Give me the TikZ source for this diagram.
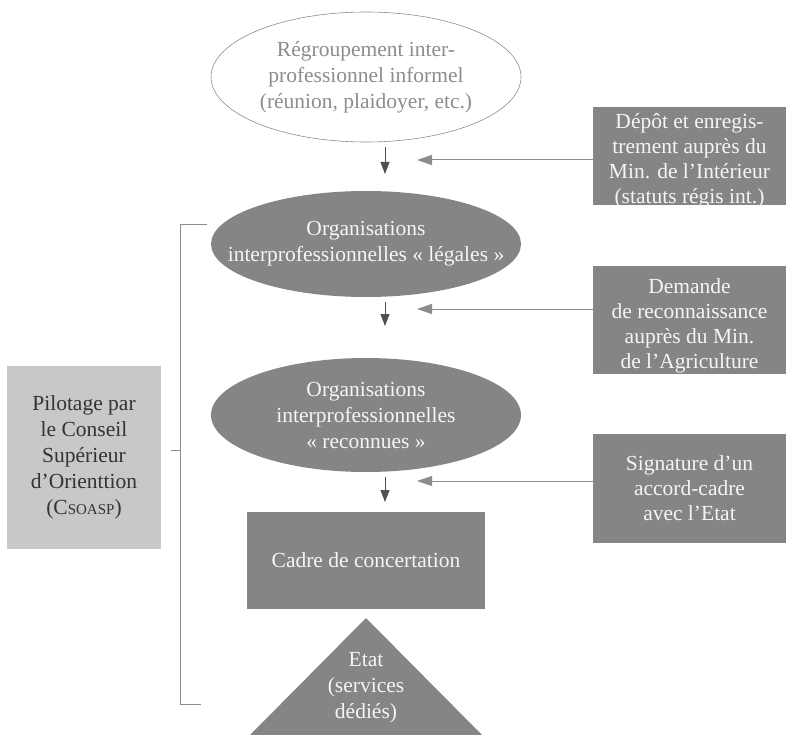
\documentclass[tikz,border=0pt]{standalone}
\usepackage{fontspec}
\setmainfont{Liberation Serif}
\usetikzlibrary{shapes.geometric,arrows.meta}
\definecolor{boxgray}{RGB}{133,133,133}
\definecolor{lightgray}{RGB}{200,200,200}
\definecolor{arrowgray}{RGB}{140,140,140}
\definecolor{darkarrow}{RGB}{80,80,80}
\definecolor{paletext}{RGB}{245,245,245}
\newcommand{\montee}[1]{\rule{0pt}{#1}}

\begin{document}
\begin{tikzpicture}[x=1pt,y=-1pt,
    txt/.style={font=\fontsize{21.5}{26}\selectfont, align=center},
    orga/.style={ellipse, txt, fill=boxgray, text=paletext, minimum width=310pt, minimum height=106pt, inner xsep=-50pt, inner ysep=0pt},
    demarche/.style={rectangle, txt, font=\fontsize{21.5}{25}\selectfont, fill=boxgray, text=paletext, minimum width=193pt, inner xsep=0pt, inner ysep=-8pt},
    etape/.style={-{Triangle[length=12pt,width=9pt]}, darkarrow, line width=0.8pt},
    apport/.style={-{Triangle[length=15pt,width=10pt]}, arrowgray, line width=1pt}]

\useasboundingbox (0,0) rectangle (786,735);

\node[ellipse, txt, draw=arrowgray, text=arrowgray, line width=0.6pt, minimum width=310pt, minimum height=130pt, inner xsep=-50pt, inner ysep=0pt] (informel) at (366,77)
    {R\'egroupement inter-\\professionnel informel\\(r\'eunion, plaidoyer, etc.)};
\node[orga] (legales) at (366,244) {Organisations\\interprofessionnelles \guillemotleft\ l\'egales \guillemotright};
\node[orga, minimum height=114pt] (reconnues) at (366,415) {Organisations\\interprofessionnelles\\\guillemotleft\ reconnues \guillemotright};
\node[rectangle, txt, fill=boxgray, text=paletext, minimum width=238pt, minimum height=97pt, inner sep=0pt] (cadre) at (366,560) {Cadre de concertation};

% triangle de l'Etat
\coordinate (apex) at (366,618);
\fill[boxgray] (apex) -- (482,735) -- (250,735) -- cycle;
\node[txt, text=paletext] (etat) at (366,688) {Etat\\(services\\d\'edi\'es)};

\node[demarche, minimum height=98pt] (interieur) at (689.5,156) {\montee{25pt}D\'ep\^ot et enregis-\\trement aupr\`es du\\Min. de l'Int\'erieur\\(statuts r\'egis int.)};
\node[demarche, minimum height=108pt] (agriculture) at (689.5,320) {\montee{26pt}Demande\\de reconnaissance\\aupr\`es du Min.\\de l'Agriculture};
\node[demarche, minimum height=109pt] (accord) at (689.5,488.5) {Signature d'un\\accord-cadre\\avec l'Etat};

\node[rectangle, txt, fill=lightgray, text=black!80, minimum width=154pt, minimum height=183pt, inner sep=0pt] (pilotage) at (84,457)
    {Pilotage par\\le Conseil\\Sup\'erieur\\d'Orienttion\\(C{\fontsize{15}{26}\selectfont SOASP})};

% fleches
\foreach \i/\ya/\yb in {1/147/174, 2/302/326, 3/477/502} {
  \coordinate (h\i) at (385,\ya);
  \coordinate (b\i) at (385,\yb);
  \draw[etape] (h\i) -- (b\i);
}
\coordinate (c1) at (417,160);
\coordinate (c2) at (417,309);
\coordinate (c3) at (417,481);
\draw[apport] (interieur.west |- c1) -- (c1);
\draw[apport] (agriculture.west |- c2) -- (c2);
\draw[apport] (accord.west |- c3) -- (c3);

% accolade de pilotage
\coordinate (haut) at (207,224);
\coordinate (bas) at (201,704);
\draw[arrowgray, line width=0.8pt] (haut) -- (180,224) -- (180,704) -- (bas);
\draw[arrowgray, line width=0.8pt] (180,450) -- (171,450);
\end{tikzpicture}
\end{document}
